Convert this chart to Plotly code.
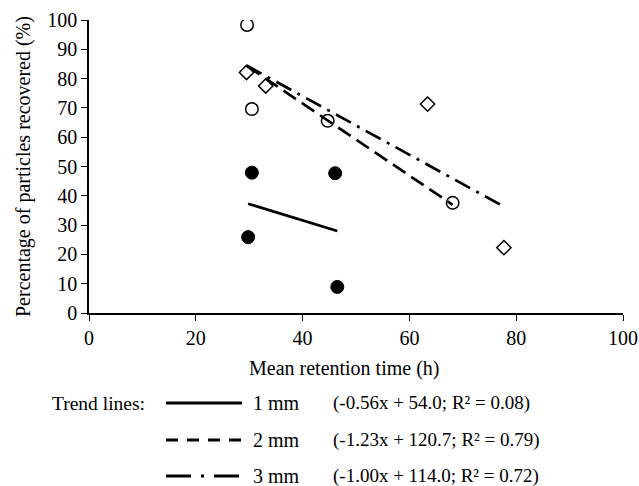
import plotly.graph_objects as go

# Data
mm1_x = [30.5, 46.1, 29.8, 46.5]
mm1_y = [47.9, 47.7, 25.9, 8.9]
mm2_x = [29.6, 30.5, 44.7, 68.1]
mm2_y = [98.3, 69.6, 65.6, 37.6]
mm3_x = [29.5, 33.1, 63.4, 77.7]
mm3_y = [82.1, 77.5, 71.3, 22.3]

series_names = ["1 mm", "2 mm", "3 mm"]
slopes = [-0.56, -1.23, -1.00]
intercepts = [54.0, 120.7, 114.0]
r2 = [0.08, 0.79, 0.72]

x_ticks = [0, 20, 40, 60, 80, 100]
y_ticks = [0, 10, 20, 30, 40, 50, 60, 70, 80, 90, 100]

FONT = "Liberation Serif, Times New Roman, serif"
W, H = 639, 486
L, R, T, B = 89, 623, 20, 313

fig = go.Figure()

plot_dashes = ["solid", "15px,7px", "17px,7px,3px,7px"]
legend_dashes = ["solid", "12px,9px", "25px,10px,3px,10px"]
xs = [mm1_x, mm2_x, mm3_x]
for i in range(3):
    x0, x1 = min(xs[i]), max(xs[i])
    fig.add_trace(go.Scatter(
        x=[x0, x1], y=[slopes[i] * x0 + intercepts[i], slopes[i] * x1 + intercepts[i]],
        mode="lines", line=dict(color="black", width=2.7, dash=plot_dashes[i]),
        showlegend=False, hoverinfo="skip"))

fig.add_trace(go.Scatter(x=mm1_x, y=mm1_y, mode="markers",
                         marker=dict(symbol="circle", size=13, color="black",
                                     line=dict(color="black", width=1)),
                         showlegend=False))
fig.add_trace(go.Scatter(x=mm2_x, y=mm2_y, mode="markers",
                         marker=dict(symbol="circle-open", size=12.5, color="black",
                                     line=dict(color="black", width=1.5)),
                         showlegend=False))
fig.add_trace(go.Scatter(x=mm3_x, y=mm3_y, mode="markers",
                         marker=dict(symbol="diamond-open", size=11, color="black",
                                     line=dict(color="black", width=1.5)),
                         showlegend=False))

def px_x(p):
    return (p - L) / (R - L)

def px_y(p):
    return (B - p) / (B - T)

annotations = [
    dict(text="Mean retention time (h)", x=px_x(344), y=px_y(368), xref="paper", yref="paper",
         showarrow=False, xanchor="center", yanchor="middle", font=dict(size=20)),
    dict(text="Percentage of particles recovered (%)", x=px_x(23), y=px_y(167), xref="paper",
         yref="paper", showarrow=False, textangle=-90, xanchor="center", yanchor="middle",
         font=dict(size=20)),
    dict(text="Trend lines:", x=px_x(147), y=px_y(403), xref="paper", yref="paper",
         showarrow=False, xanchor="right", yanchor="middle", font=dict(size=19.5)),
]
row_y = [403, 440, 476]
shapes = []
for i in range(3):
    shapes.append(dict(type="line", xref="paper", yref="paper",
                       x0=px_x(166), x1=px_x(242), y0=px_y(row_y[i]), y1=px_y(row_y[i]),
                       line=dict(color="black", width=3, dash=legend_dashes[i])))
    annotations.append(dict(text=series_names[i], x=px_x(251), y=px_y(row_y[i]),
                            xref="paper", yref="paper", showarrow=False,
                            xanchor="left", yanchor="middle", font=dict(size=20)))
    eq = f"({slopes[i]:.2f}x + {intercepts[i]:.1f}; R² = {r2[i]:.2f})"
    annotations.append(dict(text=eq, x=px_x(331), y=px_y(row_y[i]),
                            xref="paper", yref="paper", showarrow=False,
                            xanchor="left", yanchor="middle", font=dict(size=19)))

fig.update_layout(
    width=W, height=H,
    margin=dict(l=L, r=W - R, t=T, b=H - B, pad=0, autoexpand=False),
    paper_bgcolor="white", plot_bgcolor="white",
    font=dict(family=FONT, size=20, color="black"),
    showlegend=False,
    annotations=annotations,
    shapes=shapes,
    xaxis=dict(range=[0, 100], tickvals=x_ticks, ticks="outside", ticklen=6,
               tickwidth=1.3, tickcolor="black", showline=True, linecolor="black",
               linewidth=1.5, showgrid=False, zeroline=False,
               tickfont=dict(size=20)),
    yaxis=dict(range=[0, 100], tickvals=y_ticks, ticks="outside", ticklen=6,
               tickwidth=1.3, tickcolor="black", showline=True, linecolor="black",
               linewidth=1.5, showgrid=False, zeroline=False,
               tickfont=dict(size=20)),
)

fig.write_html("out.html", config={"displayModeBar": False},
               post_script="document.body.style.margin='0';document.body.style.overflow='hidden';")
